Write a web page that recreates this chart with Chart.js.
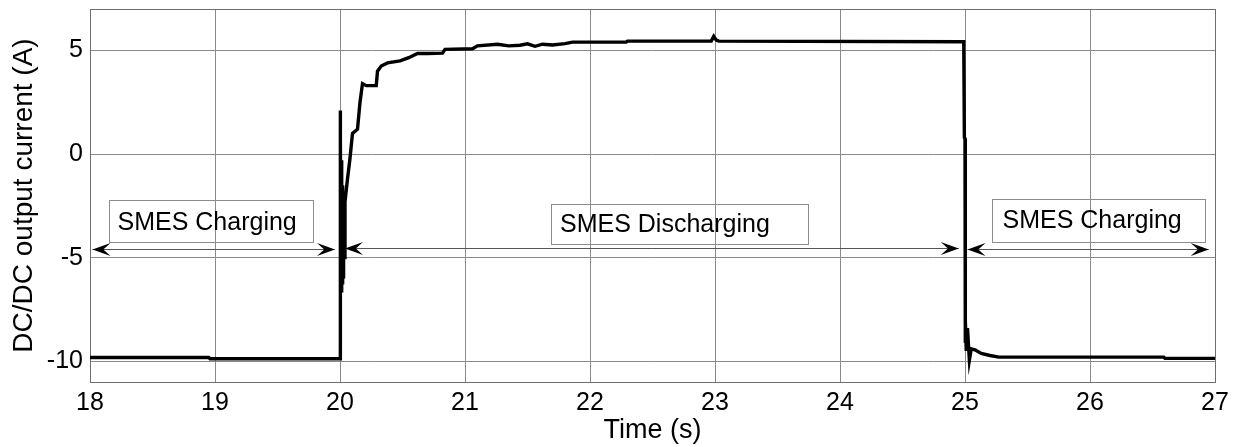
<!DOCTYPE html>
<html>
<head>
<meta charset="utf-8">
<script src="https://cdn.jsdelivr.net/npm/chart.js@4.4.0/dist/chart.umd.min.js"></script>
<style>
    body { margin: 0; background: #fff; }
</style>
</head>
<body>
<canvas id="currentChart" width="1239" height="447"></canvas>
<script>
// time axis (s) and DC/DC output current (A)
var timeValues = [
    18, 18.95, 18.96, 20.0,
    20.0, 20.003, 20.006, 20.009, 20.012, 20.015, 20.018, 20.021,
    20.024, 20.027, 20.03, 20.033,
    20.04, 20.06, 20.08, 20.1, 20.14, 20.16, 20.18, 20.21, 20.29, 20.3,
    20.33, 20.38, 20.48, 20.55, 20.62, 20.7, 20.82, 20.84, 21.06, 21.1,
    21.26, 21.35, 21.44, 21.5, 21.56, 21.62, 21.7, 21.8, 21.86, 22.29,
    22.3, 22.97, 22.99, 23.01, 23.03, 24.99,
    24.995, 25.0, 25.0, 25.005, 25.01, 25.02, 25.035, 25.05, 25.08,
    25.13, 25.2, 25.27, 26.59, 26.6, 27
];
var currentValues = [
    -9.82, -9.82, -9.88, -9.88,
    2.1, -2.0, 0.5, -6.6, -0.3, -6.4, -1.5, -6.3,
    -2.5, -6.0, -3.5, -5.0,
    -2.3, -1.2, -0.2, 1.0, 1.2, 2.5, 3.4, 3.3, 3.3, 4.0,
    4.25, 4.4, 4.5, 4.65, 4.85, 4.85, 4.87, 5.05, 5.08, 5.22,
    5.3, 5.22, 5.25, 5.32, 5.2, 5.3, 5.26, 5.33, 5.4, 5.4,
    5.45, 5.45, 5.68, 5.5, 5.45, 5.42,
    0.8, 0.75, -9.1, -8.0, -9.5, -8.4, -9.95, -9.4, -9.45,
    -9.62, -9.72, -9.8, -9.8, -9.86, -9.86
];
var xTicks = [18, 19, 20, 21, 22, 23, 24, 25, 26, 27];
var yTicks = [-10, -5, 0, 5];

var phaseLabels = ['SMES Charging', 'SMES Discharging', 'SMES Charging'];

// annotation placement in data units
var phaseBoxes = [
    { x0: 18.15, x1: 19.78, y0: -2.21, y1: -4.23, tx: 18.22, ty: -3.32 },
    { x0: 21.69, x1: 23.75, y0: -2.40, y1: -4.33, tx: 21.76, ty: -3.41 },
    { x0: 25.22, x1: 26.92, y0: -2.16, y1: -4.23, tx: 25.30, ty: -3.22 }
];
var phaseArrows = [
    { x0: 18.02, x1: 19.96, y: -4.6 },
    { x0: 20.04, x1: 24.95, y: -4.55 },
    { x0: 25.02, x1: 26.95, y: -4.6 }
];

var fontFamily = '"Liberation Sans", Arial, sans-serif';

function drawArrowHead(ctx, tipX, tipY, dir) {
    var len = 18, half = 6.5;
    ctx.beginPath();
    ctx.moveTo(tipX, tipY);
    ctx.lineTo(tipX - dir * len, tipY - half);
    ctx.lineTo(tipX - dir * len * 0.6, tipY);
    ctx.lineTo(tipX - dir * len, tipY + half);
    ctx.closePath();
    ctx.fill();
}

var annotationPlugin = {
    id: 'phaseAnnotations',
    beforeDatasetsDraw: function(chart) {
        var ctx = chart.ctx;
        var xs = chart.scales.x, ys = chart.scales.y;
        var area = chart.chartArea;
        ctx.save();

        // frame around the axes
        ctx.strokeStyle = '#6e6e6e';
        ctx.lineWidth = 1;
        ctx.strokeRect(Math.round(area.left) + 0.5, Math.round(area.top) + 0.5,
            Math.round(area.right - area.left), Math.round(area.bottom - area.top));

        // boxes and labels
        phaseBoxes.forEach(function(b, i) {
            var x0 = xs.getPixelForValue(b.x0), x1 = xs.getPixelForValue(b.x1);
            var y0 = ys.getPixelForValue(b.y0), y1 = ys.getPixelForValue(b.y1);
            ctx.strokeStyle = '#8c8c8c';
            ctx.lineWidth = 1;
            ctx.strokeRect(Math.round(x0) + 0.5, Math.round(y0) + 0.5, Math.round(x1 - x0), Math.round(y1 - y0));
            ctx.fillStyle = '#000';
            ctx.font = '25px ' + fontFamily;
            ctx.textBaseline = 'middle';
            ctx.textAlign = 'left';
            ctx.fillText(phaseLabels[i], xs.getPixelForValue(b.tx), ys.getPixelForValue(b.ty));
        });

        // double headed arrows
        phaseArrows.forEach(function(a) {
            var x0 = xs.getPixelForValue(a.x0), x1 = xs.getPixelForValue(a.x1);
            var y = Math.round(ys.getPixelForValue(a.y)) + 0.5;
            ctx.strokeStyle = '#555';
            ctx.lineWidth = 1;
            ctx.beginPath();
            ctx.moveTo(x0, y);
            ctx.lineTo(x1, y);
            ctx.stroke();
            ctx.fillStyle = '#000';
            drawArrowHead(ctx, x0, y, -1);
            drawArrowHead(ctx, x1, y, 1);
        });
        ctx.restore();
    }
};

var points = timeValues.map(function(t, i) {
    return { x: t, y: currentValues[i] };
});

var ctx = document.getElementById('currentChart').getContext('2d');
var chart = new Chart(ctx, {
    type: 'line',
    data: {
        datasets: [{
            data: points,
            borderColor: '#000',
            borderWidth: 3.4,
            pointRadius: 0,
            tension: 0,
            fill: false
        }]
    },
    options: {
        responsive: false,
        animation: false,
        layout: { padding: { top: 9, right: 24, left: 0, bottom: 0 } },
        plugins: {
            legend: { display: false },
            tooltip: { enabled: false }
        },
        scales: {
            x: {
                type: 'linear',
                min: 18,
                max: 27,
                afterBuildTicks: function(scale) {
                    scale.ticks = xTicks.map(function(v) { return { value: v }; });
                },
                afterFit: function(scale) {
                    scale.height = 65;
                    scale.paddingLeft = 0;
                    scale.paddingRight = 0;
                },
                grid: { color: '#8a8a8a', lineWidth: 1, drawTicks: false, tickLength: 0 },
                border: { display: false },
                ticks: {
                    color: '#000',
                    padding: 6,
                    maxRotation: 0,
                    font: { family: fontFamily, size: 25 }
                },
                title: {
                    display: true,
                    text: 'Time (s)',
                    color: '#000',
                    font: { family: fontFamily, size: 27, lineHeight: 1.15 },
                    padding: { top: 0, bottom: 1 }
                }
            },
            y: {
                min: -11,
                max: 7,
                afterBuildTicks: function(scale) {
                    scale.ticks = yTicks.map(function(v) { return { value: v }; });
                },
                afterFit: function(scale) {
                    scale.width = 90;
                    scale.paddingTop = 0;
                    scale.paddingBottom = 0;
                },
                grid: { color: '#8a8a8a', lineWidth: 1, drawTicks: false, tickLength: 0 },
                border: { display: false },
                ticks: {
                    color: '#000',
                    padding: 7,
                    font: { family: fontFamily, size: 25 }
                },
                title: {
                    display: true,
                    text: 'DC/DC output current (A)',
                    color: '#000',
                    font: { family: fontFamily, size: 28, lineHeight: 1.2 },
                    padding: { top: 7, bottom: 0 }
                }
            }
        }
    },
    plugins: [annotationPlugin]
});
</script>
</body>
</html>
